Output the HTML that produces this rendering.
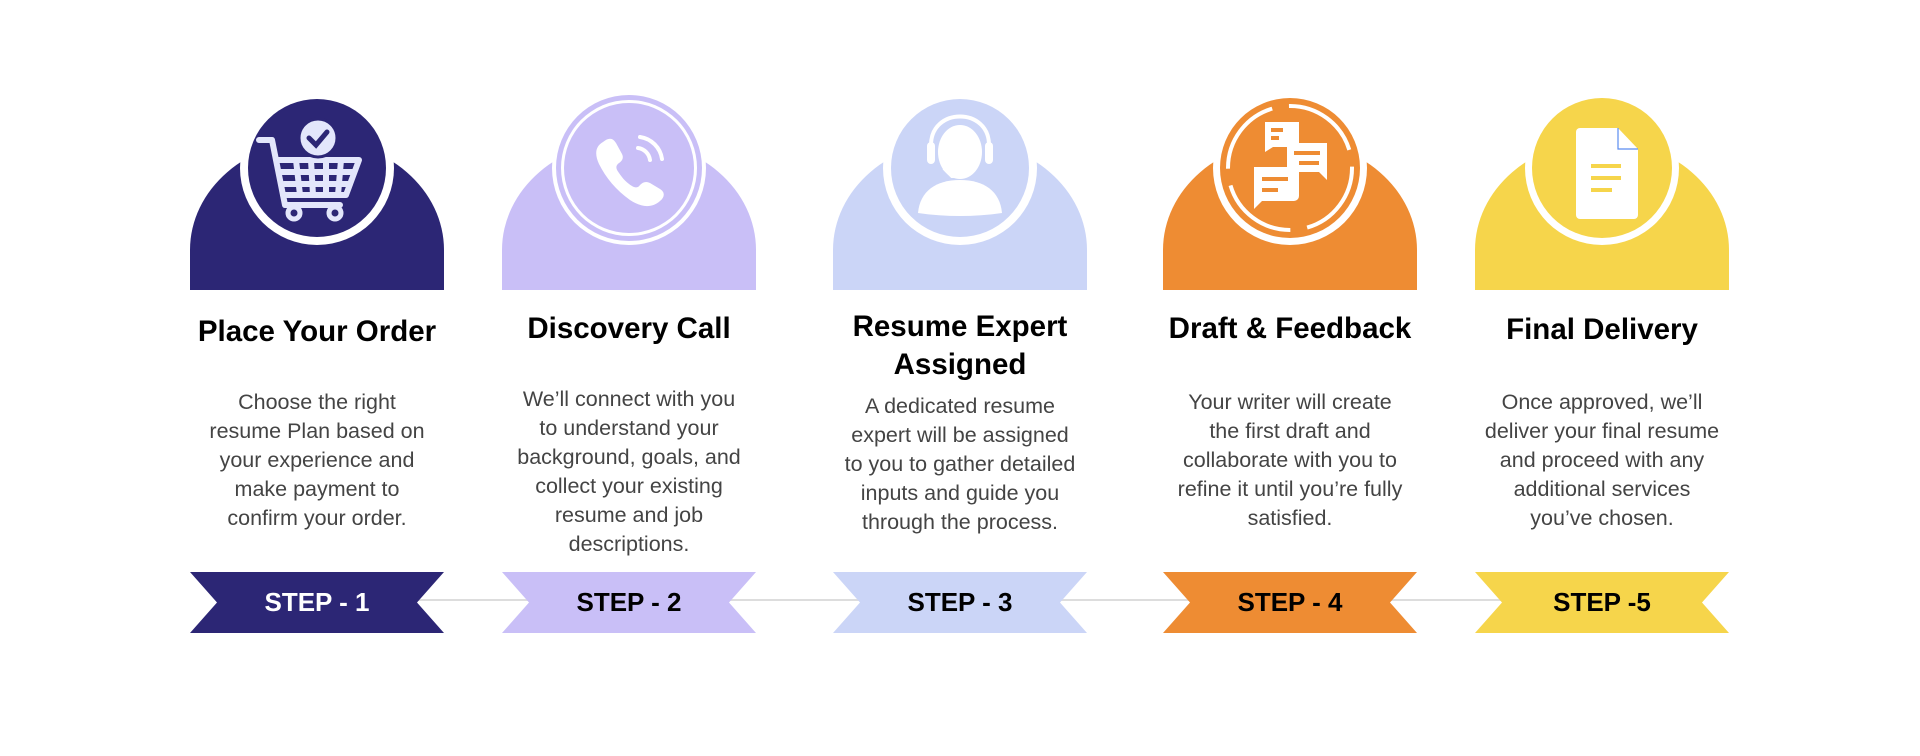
<!DOCTYPE html>
<html><head><meta charset="utf-8"><style>
body{margin:0;width:1920px;height:756px;background:#fff;position:relative;overflow:hidden;font-family:"Liberation Sans",sans-serif}
.arch{position:absolute;top:140px;height:150px;width:254px;border-radius:127px 127px 0 0/110px 110px 0 0}
.t{position:absolute;width:320px;text-align:center;font-weight:bold;font-size:29.5px;color:#000;line-height:38px}
.b{position:absolute;width:320px;text-align:center;font-size:21.5px;color:#444;line-height:29px}
.line{position:absolute;top:599px;left:400px;width:1150px;height:2px;background:#ddd}
svg{position:absolute;left:0;top:0}
.r{position:absolute;top:572px;height:61px;width:254px;font-weight:bold;font-size:26px;line-height:61px;text-align:center}
</style></head><body>
<div class="line"></div>
<div class="arch" style="left:190px;background:#2c2675"></div>
<div class="arch" style="left:502px;background:#c9bff7"></div>
<div class="arch" style="left:833px;background:#cbd5f7"></div>
<div class="arch" style="left:1163px;background:#ee8c33"></div>
<div class="arch" style="left:1475px;background:#f6d54b"></div>
<svg width="1920" height="756">
<defs>
<clipPath id="rib"><polygon points="0,0 254,0 227,30.5 254,61 0,61 27,30.5"/></clipPath>
</defs>
<circle cx="317" cy="168" r="77" fill="#fff"/><circle cx="317" cy="168" r="69" fill="#2c2675"/>
<circle cx="629" cy="168" r="77" fill="#fff"/><circle cx="629" cy="168" r="73" fill="#c9bff7"/><circle cx="629" cy="168" r="68" fill="#fff"/><circle cx="629" cy="168" r="65" fill="#c9bff7"/>
<circle cx="960" cy="168" r="77" fill="#fff"/><circle cx="960" cy="168" r="69" fill="#cbd5f7"/>
<circle cx="1290" cy="168" r="77" fill="#fff"/><circle cx="1290" cy="168" r="70" fill="#ee8c33"/>
<circle cx="1602" cy="168" r="77" fill="#fff"/><circle cx="1602" cy="168" r="70" fill="#f6d54b"/>
<g fill="none" stroke="#e3e6fb" stroke-width="6" stroke-linecap="round" stroke-linejoin="round">
<path d="M259 140 L272 140 L285 205 L340 205"/>
<path d="M278 160 L359 160 L346 195 L283 195"/>
<path d="M281 172 L354 172 M284 184 L350 184 M296 160 L300 195 M311 160 L313 195 M326 160 L326 195 M341 160 L338 195"/>
</g>
<circle cx="294" cy="213" r="6" fill="#2c2675" stroke="#e3e6fb" stroke-width="5"/>
<circle cx="335" cy="213" r="6" fill="#2c2675" stroke="#e3e6fb" stroke-width="5"/>
<circle cx="318" cy="138" r="19" fill="#e3e6fb" stroke="#2c2675" stroke-width="3"/>
<path d="M309 138 L316 145 L327 132" fill="none" stroke="#2c2675" stroke-width="5" stroke-linecap="round"/>
<path d="M603 142 c6-5 10-4 13 1 l6 11 c2 4 0 7-3 9 c-4 3-3 6 0 10 c4 6 8 10 13 13 c3 2 6 2 8-1 c3-3 6-4 10-2 l10 6 c5 3 5 8 0 12 c-8 7-18 7-30-1 c-14-10-24-22-31-36 c-5-11-3-18 4-22z" fill="#fff"/>
<path d="M638 148 a14 14 0 0 1 12 12 M640 137 a26 26 0 0 1 22 22" fill="none" stroke="#fff" stroke-width="4" stroke-linecap="round"/>
<g fill="#fff"><ellipse cx="960" cy="152" rx="22" ry="27"/><path d="M918 213 c2-22 18-33 42-33 c24 0 40 11 42 33 c-28 4-56 4-84 0z"/>
<rect x="927" y="142" width="8" height="22" rx="4"/><rect x="985" y="142" width="8" height="22" rx="4"/></g>
<path d="M931 145 c0-38 58-38 58 0 M944 168 l8 8 l14 0" fill="none" stroke="#fff" stroke-width="4"/>
<g fill="none" stroke="#fff" stroke-width="4"><circle cx="1290" cy="168" r="62" stroke-dasharray="80 17"/></g>
<g fill="#fff"><path d="M1265 122 h34 v25 h-26 l-8 5z"/><path d="M1287 143 h40 v37 l-8-8 h-32z"/><path d="M1254 167 h40 a5 5 0 0 1 5 5 v24 a5 5 0 0 1-5 5 h-32 l-8 8z"/></g>
<g stroke="#ee8c33" stroke-width="4"><path d="M1271 130 h12 M1271 138 h8 M1294 153 h26 M1299 163 h20 M1262 179 h26 M1262 190 h16"/></g>
<path d="M1580 128 h38 l20 21 v66 a4 4 0 0 1-4 4 h-54 a4 4 0 0 1-4-4 v-83 a4 4 0 0 1 4-4z" fill="#fff"/>
<path d="M1618 128 v21 h20" fill="none" stroke="#5b8cf0" stroke-width="1.2"/>
<g stroke="#f6d54b" stroke-width="4"><path d="M1591 166 h30 M1591 178 h30 M1591 190 h21"/></g>
<g transform="translate(190,572)"><rect width="254" height="61" fill="#2c2675" clip-path="url(#rib)"/></g>
<g transform="translate(502,572)"><rect width="254" height="61" fill="#c9bff7" clip-path="url(#rib)"/></g>
<g transform="translate(833,572)"><rect width="254" height="61" fill="#cbd5f7" clip-path="url(#rib)"/></g>
<g transform="translate(1163,572)"><rect width="254" height="61" fill="#ee8c33" clip-path="url(#rib)"/></g>
<g transform="translate(1475,572)"><rect width="254" height="61" fill="#f6d54b" clip-path="url(#rib)"/></g>
</svg>
<div class="r" style="left:190px;color:#fff">STEP - 1</div>
<div class="r" style="left:502px;color:#000">STEP - 2</div>
<div class="r" style="left:833px;color:#000">STEP - 3</div>
<div class="r" style="left:1163px;color:#000">STEP - 4</div>
<div class="r" style="left:1475px;color:#000">STEP -5</div>

<div class="t" style="left:157px;top:313px">Place Your Order</div>
<div class="t" style="left:469px;top:310px">Discovery Call</div>
<div class="t" style="left:800px;top:308px">Resume Expert<br>Assigned</div>
<div class="t" style="left:1130px;top:310px">Draft &amp; Feedback</div>
<div class="t" style="left:1442px;top:311px">Final Delivery</div>

<div class="b" style="left:157px;top:388px">Choose the right<br>resume Plan based on<br>your experience and<br>make payment to<br>confirm your order.</div>
<div class="b" style="left:469px;top:385px">We’ll connect with you<br>to understand your<br>background, goals, and<br>collect your existing<br>resume and job<br>descriptions.</div>
<div class="b" style="left:800px;top:392px">A dedicated resume<br>expert will be assigned<br>to you to gather detailed<br>inputs and guide you<br>through the process.</div>
<div class="b" style="left:1130px;top:388px">Your writer will create<br>the first draft and<br>collaborate with you to<br>refine it until you’re fully<br>satisfied.</div>
<div class="b" style="left:1442px;top:388px">Once approved, we’ll<br>deliver your final resume<br>and proceed with any<br>additional services<br>you’ve chosen.</div>
</body></html>
